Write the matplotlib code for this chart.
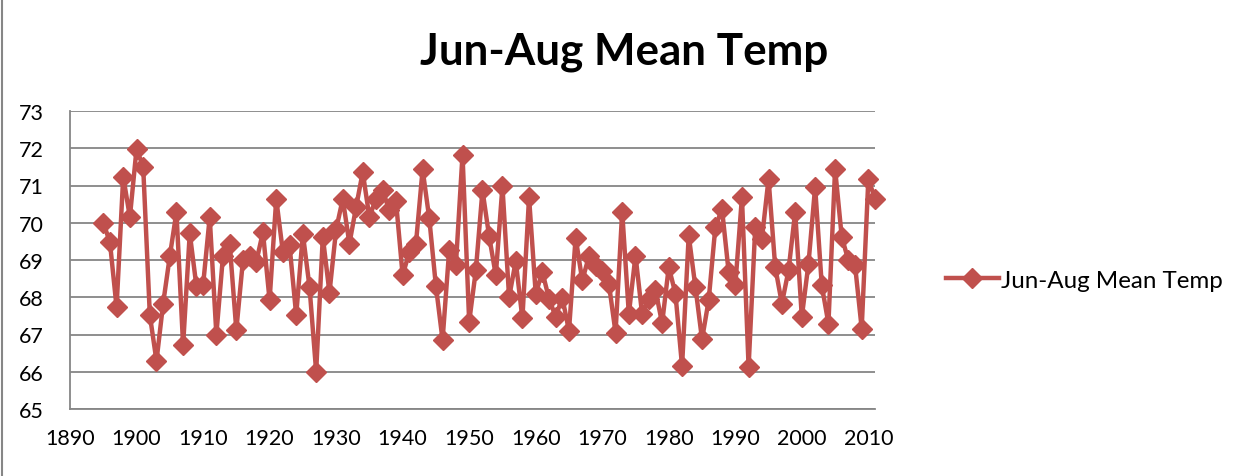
import numpy as np
import matplotlib
matplotlib.use("Agg")
import matplotlib.pyplot as plt
from matplotlib.lines import Line2D

plt.rcParams['font.family'] = ['Lato', 'DejaVu Sans']

# summer mean temperature, one value per year starting 1895
first_year = 1895
temps = [
    70.0, 69.48, 67.73, 71.24, 70.15,                                   # 1895-1899
    71.98, 71.5, 67.52, 66.29, 67.83, 69.1, 70.29, 66.71, 69.72, 68.3,  # 1900s
    68.32, 70.15, 67.0, 69.12, 69.44, 67.12, 69.0, 69.1, 68.95, 69.75,  # 1910s
    67.92, 70.64, 69.21, 69.39, 67.52, 69.7, 68.28, 66.0, 69.62, 68.12, # 1920s
    69.82, 70.64, 69.44, 70.42, 71.36, 70.15, 70.65, 70.87, 70.33, 70.58,  # 1930s
    68.59, 69.21, 69.44, 71.43, 70.12, 68.3, 66.85, 69.28, 68.86, 71.83,   # 1940s
    67.34, 68.72, 70.87, 69.64, 68.59, 70.98, 68.0, 68.97, 67.43, 70.68,   # 1950s
    68.1, 68.68, 67.96, 67.48, 67.99, 67.1, 69.6, 68.45, 69.1, 68.85,      # 1960s
    68.7, 68.36, 67.05, 70.3, 67.55, 69.12, 67.54, 67.95, 68.2, 67.3,      # 1970s
    68.81, 68.1, 66.15, 69.66, 68.28, 66.87, 67.92, 69.88, 70.37, 68.68,   # 1980s
    68.32, 70.69, 66.13, 69.88, 69.57, 71.18, 68.81, 67.83, 68.72, 70.29,  # 1990s
    67.47, 68.9, 70.96, 68.32, 67.29, 71.45, 69.62, 68.99, 68.86, 67.16,   # 2000s
    71.18, 70.64,                                                       # 2010-2011
]
years = np.arange(first_year, first_year + len(temps))

series_name = "Jun-Aug Mean Temp"
x_ticks = np.arange(1890, 2011, 10)
y_ticks = np.arange(65, 74, 1)

red = "#C0504D"
grid_grey = "#868686"

fig = plt.figure(figsize=(12.49, 4.77), dpi=100)
ax = fig.add_axes([70 / 1249, 1 - 410 / 477, (875 - 70) / 1249, (410 - 112) / 477])

ax.plot(years, temps, color=red, lw=3.2, marker='D', markersize=10,
        markerfacecolor=red, markeredgecolor=red, clip_on=False, zorder=3)

ax.set_xlim(1890, 2011)
ax.set_ylim(65, 73)
ax.set_xticks(x_ticks)
ax.set_yticks(y_ticks)
ax.tick_params(axis='both', labelsize=15.5, length=0, colors='black')
ax.tick_params(axis='x', pad=14)
ax.tick_params(axis='y', pad=19)

ax.grid(axis='y', color=grid_grey, lw=1.3)
ax.set_axisbelow(True)
for s in ['top', 'right']:
    ax.spines[s].set_visible(False)
ax.spines['left'].set_color(grid_grey)
ax.spines['bottom'].set_color(grid_grey)
ax.spines['left'].set_linewidth(1.3)
ax.spines['bottom'].set_linewidth(1.3)

fig.text(624 / 1249, 1 - 52 / 477, series_name, ha='center', va='center',
         fontsize=31.7, fontweight='bold')

handle = Line2D([], [], color=red, lw=3.2, marker='D', markersize=10,
                markerfacecolor=red, markeredgecolor=red)
fig.legend([handle], [series_name], loc='center left',
           bbox_to_anchor=(936 / 1249, 1 - 281 / 477), frameon=False,
           fontsize=17.4, handlelength=2.2, handletextpad=0.1, borderaxespad=0)

# thin chart border on the left
fig.add_artist(Line2D([0.002, 0.002], [0, 1], color=grid_grey, lw=1.5,
                      transform=fig.transFigure))

fig.savefig("out.png", dpi=100)
